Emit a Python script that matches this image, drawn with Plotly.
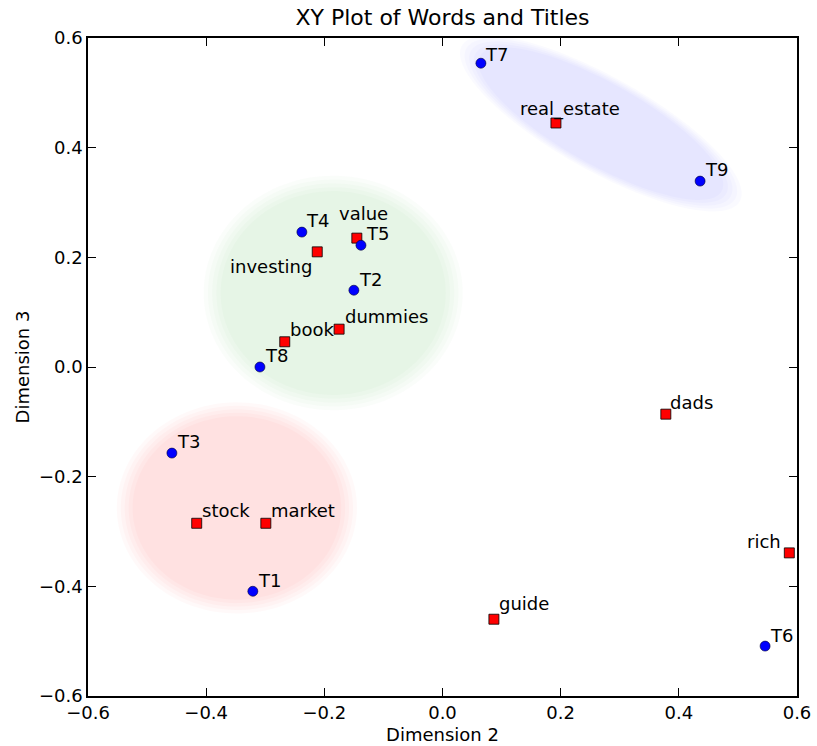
import numpy as np
import plotly.graph_objects as go

# ---- data ----
titles = ["T1", "T2", "T3", "T4", "T5", "T6", "T7", "T8", "T9"]
title_x = [-0.321, -0.150, -0.458, -0.238, -0.138, 0.546, 0.065, -0.309, 0.436]
title_y = [-0.409, 0.140, -0.157, 0.246, 0.222, -0.509, 0.554, 0.000, 0.339]

words = ["book", "dads", "dummies", "guide", "investing", "market",
         "real_estate", "rich", "stock", "value"]
word_x = [-0.267, 0.378, -0.175, 0.087, -0.212, -0.299, 0.192, 0.587, -0.416, -0.145]
word_y = [0.046, -0.086, 0.069, -0.460, 0.210, -0.285, 0.445, -0.339, -0.285, 0.235]

tick_vals = [-0.6, -0.4, -0.2, 0.0, 0.2, 0.4, 0.6]

# ---- cluster regions: centre, semi-axis vectors (data units) ----
regions = [
    dict(c=(-0.185, 0.135), u=(0.205, 0.0), v=(0.0, 0.200), rgb=(0, 128, 0), a=0.10),
    dict(c=(-0.348, -0.257), u=(0.190, 0.0), v=(0.0, 0.180), rgb=(255, 0, 0), a=0.11),
    dict(c=(0.268, 0.444), u=(0.220, -0.1326), v=(0.0363, 0.0700), rgb=(0, 0, 255), a=0.10),
]

# ---- label placement (pixels): xshift, yshift, xanchor ----
label_pos = {
    "T1": (3, 11, "left"), "T2": (3, 10.5, "left"), "T3": (3, 11.5, "left"),
    "T4": (2, 12, "left"), "T5": (3, 11.5, "left"), "T6": (3, 10.5, "left"),
    "T7": (2, 9, "left"), "T8": (3, 11.5, "left"), "T9": (3, 11.5, "left"),
    "book": (3, 12, "left"), "dads": (2, 11.5, "left"), "dummies": (4, 12.5, "left"),
    "guide": (3, 16, "left"), "investing": (-3, -14.5, "right"),
    "market": (3, 13, "left"), "real_estate": (-38, 13.5, "left"),
    "rich": (-6, 11.5, "right"), "stock": (3, 13, "left"), "value": (-20, 24.5, "left"),
}

FONT = "DejaVu Sans"

fig = go.Figure()

fig.add_trace(go.Scatter(
    x=word_x, y=word_y, mode="markers", name="words",
    marker=dict(symbol="square", size=10, color="#ff0000",
                line=dict(color="#000000", width=0.8)),
    hoverinfo="text", text=words,
))
fig.add_trace(go.Scatter(
    x=title_x, y=title_y, mode="markers", name="titles",
    marker=dict(symbol="circle", size=10, color="#0000ff",
                line=dict(color="#000033", width=0.6)),
    hoverinfo="text", text=titles,
))

# shaded regions with soft edges (stacked translucent layers)
t = np.linspace(0, 2 * np.pi, 120)
scales = [1.07, 1.035, 1.0, 0.965, 0.93]
for r in regions:
    layer_a = 1 - (1 - r["a"]) ** (1 / len(scales))
    col = "rgba(%d,%d,%d,%.4f)" % (*r["rgb"], layer_a)
    for s in scales:
        ex = r["c"][0] + s * (r["u"][0] * np.cos(t) + r["v"][0] * np.sin(t))
        ey = r["c"][1] + s * (r["u"][1] * np.cos(t) + r["v"][1] * np.sin(t))
        path = "M " + " L ".join(f"{a:.5f},{b:.5f}" for a, b in zip(ex, ey)) + " Z"
        fig.add_shape(type="path", path=path, xref="x", yref="y", layer="below",
                      fillcolor=col, line=dict(width=0))

# labels
for names, xs, ys in ((words, word_x, word_y), (titles, title_x, title_y)):
    for n, x, y in zip(names, xs, ys):
        dx, dy, anc = label_pos[n]
        fig.add_annotation(x=x, y=y, xref="x", yref="y", text=n, showarrow=False,
                           xanchor=anc, yanchor="middle", xshift=dx, yshift=dy,
                           font=dict(family=FONT, size=18, color="#000000"))

axis_common = dict(
    range=[-0.6, 0.6], tickvals=tick_vals, tickformat=".1f",
    ticks="inside", ticklen=8, tickwidth=1, tickcolor="#000000",
    showline=True, linecolor="#000000", linewidth=1.5, mirror="ticks",
    showgrid=False, zeroline=False, automargin=False,
    tickfont=dict(family=FONT, size=18, color="#000000"),
)

fig.update_layout(
    width=817, height=746,
    margin=dict(l=88, r=20, t=38, b=50),
    paper_bgcolor="white", plot_bgcolor="white",
    showlegend=False,
    title=dict(text="XY Plot of Words and Titles", x=0.5, xref="paper",
               y=1 - 17 / 746, yref="container", yanchor="middle", xanchor="center",
               font=dict(family=FONT, size=22, color="#000000")),
    xaxis=dict(**axis_common,
               title=dict(text="Dimension 2", standoff=6,
                          font=dict(family=FONT, size=18, color="#000000"))),
    yaxis=dict(**axis_common,
               title=dict(text="Dimension 3", standoff=5,
                          font=dict(family=FONT, size=18, color="#000000"))),
)

fig.write_html("out.html")
